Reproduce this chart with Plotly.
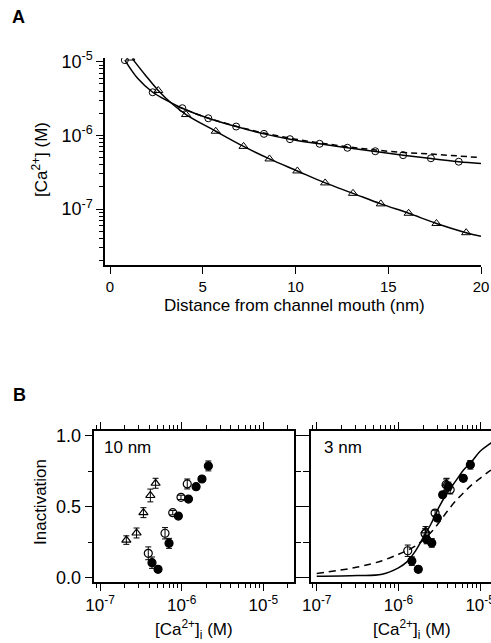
import plotly.graph_objects as go

# ---------------- Panel A data ----------------
circ_x = [0.8, 2.3, 3.9, 5.3, 6.8, 8.3, 9.7, 11.3, 12.8, 14.3, 15.8, 17.3, 18.8]
circ_y = [1.05e-5, 3.85e-6, 2.34e-6, 1.71e-6, 1.32e-6, 1.05e-6, 8.9e-7, 7.7e-7, 6.8e-7, 6.1e-7, 5.4e-7, 4.9e-7, 4.4e-7]
tri_x = [1.1, 2.6, 4.1, 5.7, 7.2, 8.6, 10.1, 11.6, 13.1, 14.6, 16.1, 17.6, 19.2]
tri_y = [1.12e-5, 4.07e-6, 1.92e-6, 1.14e-6, 7.1e-7, 4.8e-7, 3.3e-7, 2.27e-7, 1.64e-7, 1.18e-7, 8.8e-8, 6.4e-8, 4.8e-8]

curve_c_x = [0.8, 1.5, 2.3, 3.1, 3.9, 5.3, 6.8, 8.3, 9.7, 11.3, 12.8, 14.3, 15.8, 17.3, 18.8, 20]
curve_c_y = [1.05e-5, 5.9e-6, 3.85e-6, 2.95e-6, 2.34e-6, 1.71e-6, 1.32e-6, 1.05e-6, 8.9e-7, 7.7e-7, 6.8e-7, 6.05e-7, 5.4e-7, 4.85e-7, 4.4e-7, 4.15e-7]
curve_t_x = [1.2, 1.9, 2.6, 3.3, 4.1, 5.7, 7.2, 8.6, 10.1, 11.6, 13.1, 14.6, 16.1, 17.6, 19.2, 20]
curve_t_y = [1.1e-5, 6.6e-6, 4.07e-6, 2.75e-6, 1.92e-6, 1.14e-6, 7.1e-7, 4.8e-7, 3.3e-7, 2.27e-7, 1.64e-7, 1.18e-7, 8.8e-8, 6.4e-8, 4.8e-8, 4.3e-8]
curve_d_x = [3.6, 5.0, 7.5, 10.0, 12.5, 15.0, 17.5, 20.0]
curve_d_y = [2.5e-6, 1.82e-6, 1.2e-6, 8.9e-7, 7.2e-7, 6.1e-7, 5.55e-7, 5.0e-7]

# ---------------- Panel B data (10 nm) ----------------
b10_tri_x = [2.10e-7, 2.80e-7, 3.40e-7, 4.13e-7, 4.79e-7]
b10_tri_y = [0.265, 0.315, 0.458, 0.579, 0.665]
b10_tri_e = [0.03, 0.035, 0.035, 0.045, 0.035]
b10_oc_x = [3.90e-7, 6.25e-7, 7.77e-7, 9.8e-7, 1.17e-6]
b10_oc_y = [0.172, 0.313, 0.458, 0.566, 0.66]
b10_oc_e = [0.045, 0.04, 0.015, 0.015, 0.035]
b10_fc_x = [4.33e-7, 5.13e-7, 7.0e-7, 9.1e-7, 1.21e-6, 1.50e-6, 1.77e-6, 2.12e-6]
b10_fc_y = [0.106, 0.059, 0.242, 0.434, 0.554, 0.641, 0.695, 0.787]
b10_fc_e = [0.04, 0.02, 0.035, 0.015, 0.015, 0.015, 0.015, 0.035]

# ---------------- Panel B data (3 nm) ----------------
b3_tri_x = [2.15e-6, 3.9e-6]
b3_tri_y = [0.33, 0.66]
b3_tri_e = [0.03, 0.04]
b3_oc_x = [1.30e-6, 2.12e-6, 2.81e-6, 3.83e-6, 4.3e-6]
b3_oc_y = [0.19, 0.31, 0.455, 0.655, 0.62]
b3_oc_e = [0.04, 0.035, 0.02, 0.04, 0.03]
b3_fc_x = [1.46e-6, 1.75e-6, 2.22e-6, 2.56e-6, 2.99e-6, 3.48e-6, 4.08e-6, 6.22e-6, 7.59e-6]
b3_fc_y = [0.117, 0.059, 0.269, 0.245, 0.42, 0.584, 0.643, 0.70, 0.795]
b3_fc_e = [0.03, 0.02, 0.03, 0.03, 0.02, 0.02, 0.03, 0.02, 0.03]

fit_x = [1.0e-7, 3.16e-7, 6.31e-7, 1.0e-6, 1.26e-6, 1.58e-6, 2.0e-6, 2.51e-6, 3.16e-6, 3.98e-6, 5.01e-6, 6.31e-6, 7.94e-6, 1.0e-5, 1.26e-5, 1.41e-5]
fit_solid = [0.01, 0.015, 0.025, 0.07, 0.11, 0.18, 0.28, 0.38, 0.50, 0.60, 0.68, 0.76, 0.82, 0.89, 0.935, 0.955]
fit_dash = [0.03, 0.075, 0.12, 0.165, 0.19, 0.22, 0.265, 0.32, 0.39, 0.47, 0.54, 0.60, 0.655, 0.70, 0.745, 0.765]

# ---------------- layout helpers ----------------
W, H = 491, 643
FONT = "Liberation Sans, Arial, Helvetica, sans-serif"


def fx(px):
    return px / W


def fy(py):
    return 1 - py / H


fig = go.Figure()
blk = "black"

# Panel A traces
fig.add_trace(go.Scatter(x=curve_c_x, y=curve_c_y, mode="lines", line=dict(color=blk, width=1.5, shape="spline"),
                         xaxis="x", yaxis="y", showlegend=False))
fig.add_trace(go.Scatter(x=curve_d_x, y=curve_d_y, mode="lines", line=dict(color=blk, width=1.5, dash="6px,4px", shape="spline"),
                         xaxis="x", yaxis="y", showlegend=False))
fig.add_trace(go.Scatter(x=curve_t_x, y=curve_t_y, mode="lines", line=dict(color=blk, width=1.5, shape="spline"),
                         xaxis="x", yaxis="y", showlegend=False))
fig.add_trace(go.Scatter(x=circ_x, y=circ_y, mode="markers",
                         marker=dict(symbol="circle-open", size=7, color=blk, line=dict(width=1)),
                         xaxis="x", yaxis="y", showlegend=False))
fig.add_trace(go.Scatter(x=tri_x, y=tri_y, mode="markers",
                         marker=dict(symbol="triangle-up-open", size=8, color=blk, line=dict(width=1)),
                         xaxis="x", yaxis="y", showlegend=False))


def pts(x, y, e, sym, ax, ay):
    fig.add_trace(go.Scatter(x=x, y=y, mode="markers",
                             error_y=dict(type="data", array=e, color=blk, thickness=1, width=3),
                             marker=dict(symbol=sym, size=8, color=blk, line=dict(width=1.2, color=blk)),
                             xaxis=ax, yaxis=ay, showlegend=False))


# Panel B left (10 nm)
pts(b10_tri_x, b10_tri_y, b10_tri_e, "triangle-up-open", "x2", "y2")
pts(b10_oc_x, b10_oc_y, b10_oc_e, "circle-open", "x2", "y2")
pts(b10_fc_x, b10_fc_y, b10_fc_e, "circle", "x2", "y2")

# Panel B right (3 nm)
fig.add_trace(go.Scatter(x=fit_x, y=fit_dash, mode="lines", line=dict(color=blk, width=1.5, dash="7px,5px", shape="spline"),
                         xaxis="x3", yaxis="y3", showlegend=False))
fig.add_trace(go.Scatter(x=fit_x, y=fit_solid, mode="lines", line=dict(color=blk, width=1.5, shape="spline"),
                         xaxis="x3", yaxis="y3", showlegend=False))
pts(b3_tri_x, b3_tri_y, b3_tri_e, "triangle-up-open", "x3", "y3")
pts(b3_oc_x, b3_oc_y, b3_oc_e, "circle-open", "x3", "y3")
pts(b3_fc_x, b3_fc_y, b3_fc_e, "circle", "x3", "y3")


# minor tick positions for log axes
def log_minor(e0, e1):
    out = []
    for e in range(e0, e1):
        for k in range(2, 10):
            out.append(k * 10.0 ** e)
    return out


def axis_common(size):
    return dict(showline=True, linecolor=blk, linewidth=1.5, ticks="outside", tickcolor=blk, automargin=False,
                tickwidth=1.2, showgrid=False, zeroline=False, tickfont=dict(family=FONT, size=size, color=blk))


A_x_dom = [fx(105), fx(481)]
A_y_dom = [fy(265), fy(58)]
BL_x_dom = [fx(94.3), fx(294)]
BR_x_dom = [fx(311), 1.0]
B_y_dom = [fy(582), fy(430.7)]

sup = lambda e: "10<sup>%d</sup>" % e

fig.update_layout(
    template="none",
    width=W, height=H, margin=dict(l=0, r=0, t=0, b=0, autoexpand=False), autosize=False,
    paper_bgcolor="white", plot_bgcolor="white",
    font=dict(family=FONT, color=blk, size=16),
    xaxis=dict(domain=A_x_dom, range=[-0.27, 20], tickvals=[0, 5, 10, 15, 20], ticklen=7,
               anchor="y", **axis_common(15)),
    yaxis=dict(domain=A_y_dom, type="log", range=[-7.757, -4.95], tickvals=[1e-7, 1e-6, 1e-5],
               ticktext=[sup(-7), sup(-6), sup(-5)], ticklen=7, anchor="x",
               minor=dict(tickvals=log_minor(-8, -4), ticks="outside", ticklen=4, tickcolor=blk, tickwidth=1),
               **axis_common(18)),
    xaxis2=dict(domain=BL_x_dom, type="log", range=[-7.07, -4.625], tickvals=[1e-7, 1e-6, 1e-5],
                ticktext=[sup(-7), sup(-6), sup(-5)], ticklen=7, mirror="allticks", anchor="y2",
                minor=dict(tickvals=log_minor(-8, -4), ticks="outside", ticklen=4, tickcolor=blk, tickwidth=1),
                **axis_common(17)),
    yaxis2=dict(domain=B_y_dom, range=[-0.03, 1.035], tickvals=[0, 0.5, 1.0], ticktext=["0.0", "0.5", "1.0"],
                ticklen=8, mirror="allticks", anchor="x2",
                minor=dict(tickvals=[0.25, 0.75], ticks="outside", ticklen=5, tickcolor=blk, tickwidth=1),
                **axis_common(18)),
    xaxis3=dict(domain=BR_x_dom, type="log", range=[-7.07, -4.867], tickvals=[1e-7, 1e-6, 1e-5],
                ticktext=[sup(-7), sup(-6), sup(-5)], ticklen=7, mirror="allticks", anchor="y3",
                ticklabeloverflow="allow",
                minor=dict(tickvals=log_minor(-8, -4), ticks="outside", ticklen=4, tickcolor=blk, tickwidth=1),
                **axis_common(17)),
    yaxis3=dict(domain=B_y_dom, range=[-0.03, 1.035], tickvals=[0, 0.5, 1.0], showticklabels=False,
                ticklen=9, anchor="x3",
                minor=dict(tickvals=[0.25, 0.75], ticks="outside", ticklen=6, tickcolor=blk, tickwidth=1),
                **axis_common(17)),
)

ann = []


def text(s, px, py, size=17, bold=False, angle=0):
    ann.append(dict(text=("<b>%s</b>" % s) if bold else s, x=fx(px), y=fy(py), xref="paper", yref="paper",
                    showarrow=False, xanchor="center", yanchor="middle", textangle=angle,
                    font=dict(family=FONT, size=size, color=blk)))


text("A", 18, 17, size=18, bold=True)
text("B", 19, 395, size=18, bold=True)
text("Distance from channel mouth (nm)", 294, 305, size=17)
text("[Ca<sup>2+</sup>] (M)", 40, 160, size=17, angle=-90)
text("Inactivation", 41, 502, size=17, angle=-90)
text("10 nm", 127, 447, size=17)
text("3 nm", 343, 447, size=17)
text("[Ca<sup>2+</sup>]<sub>i</sub> (M)", 194, 629, size=17)
text("[Ca<sup>2+</sup>]<sub>i</sub> (M)", 412, 629, size=17)
fig.update_layout(annotations=ann)

fig.write_html("out.html", config={"displayModeBar": False},
               post_script="document.body.style.margin='0px';document.body.style.overflow='hidden';")
